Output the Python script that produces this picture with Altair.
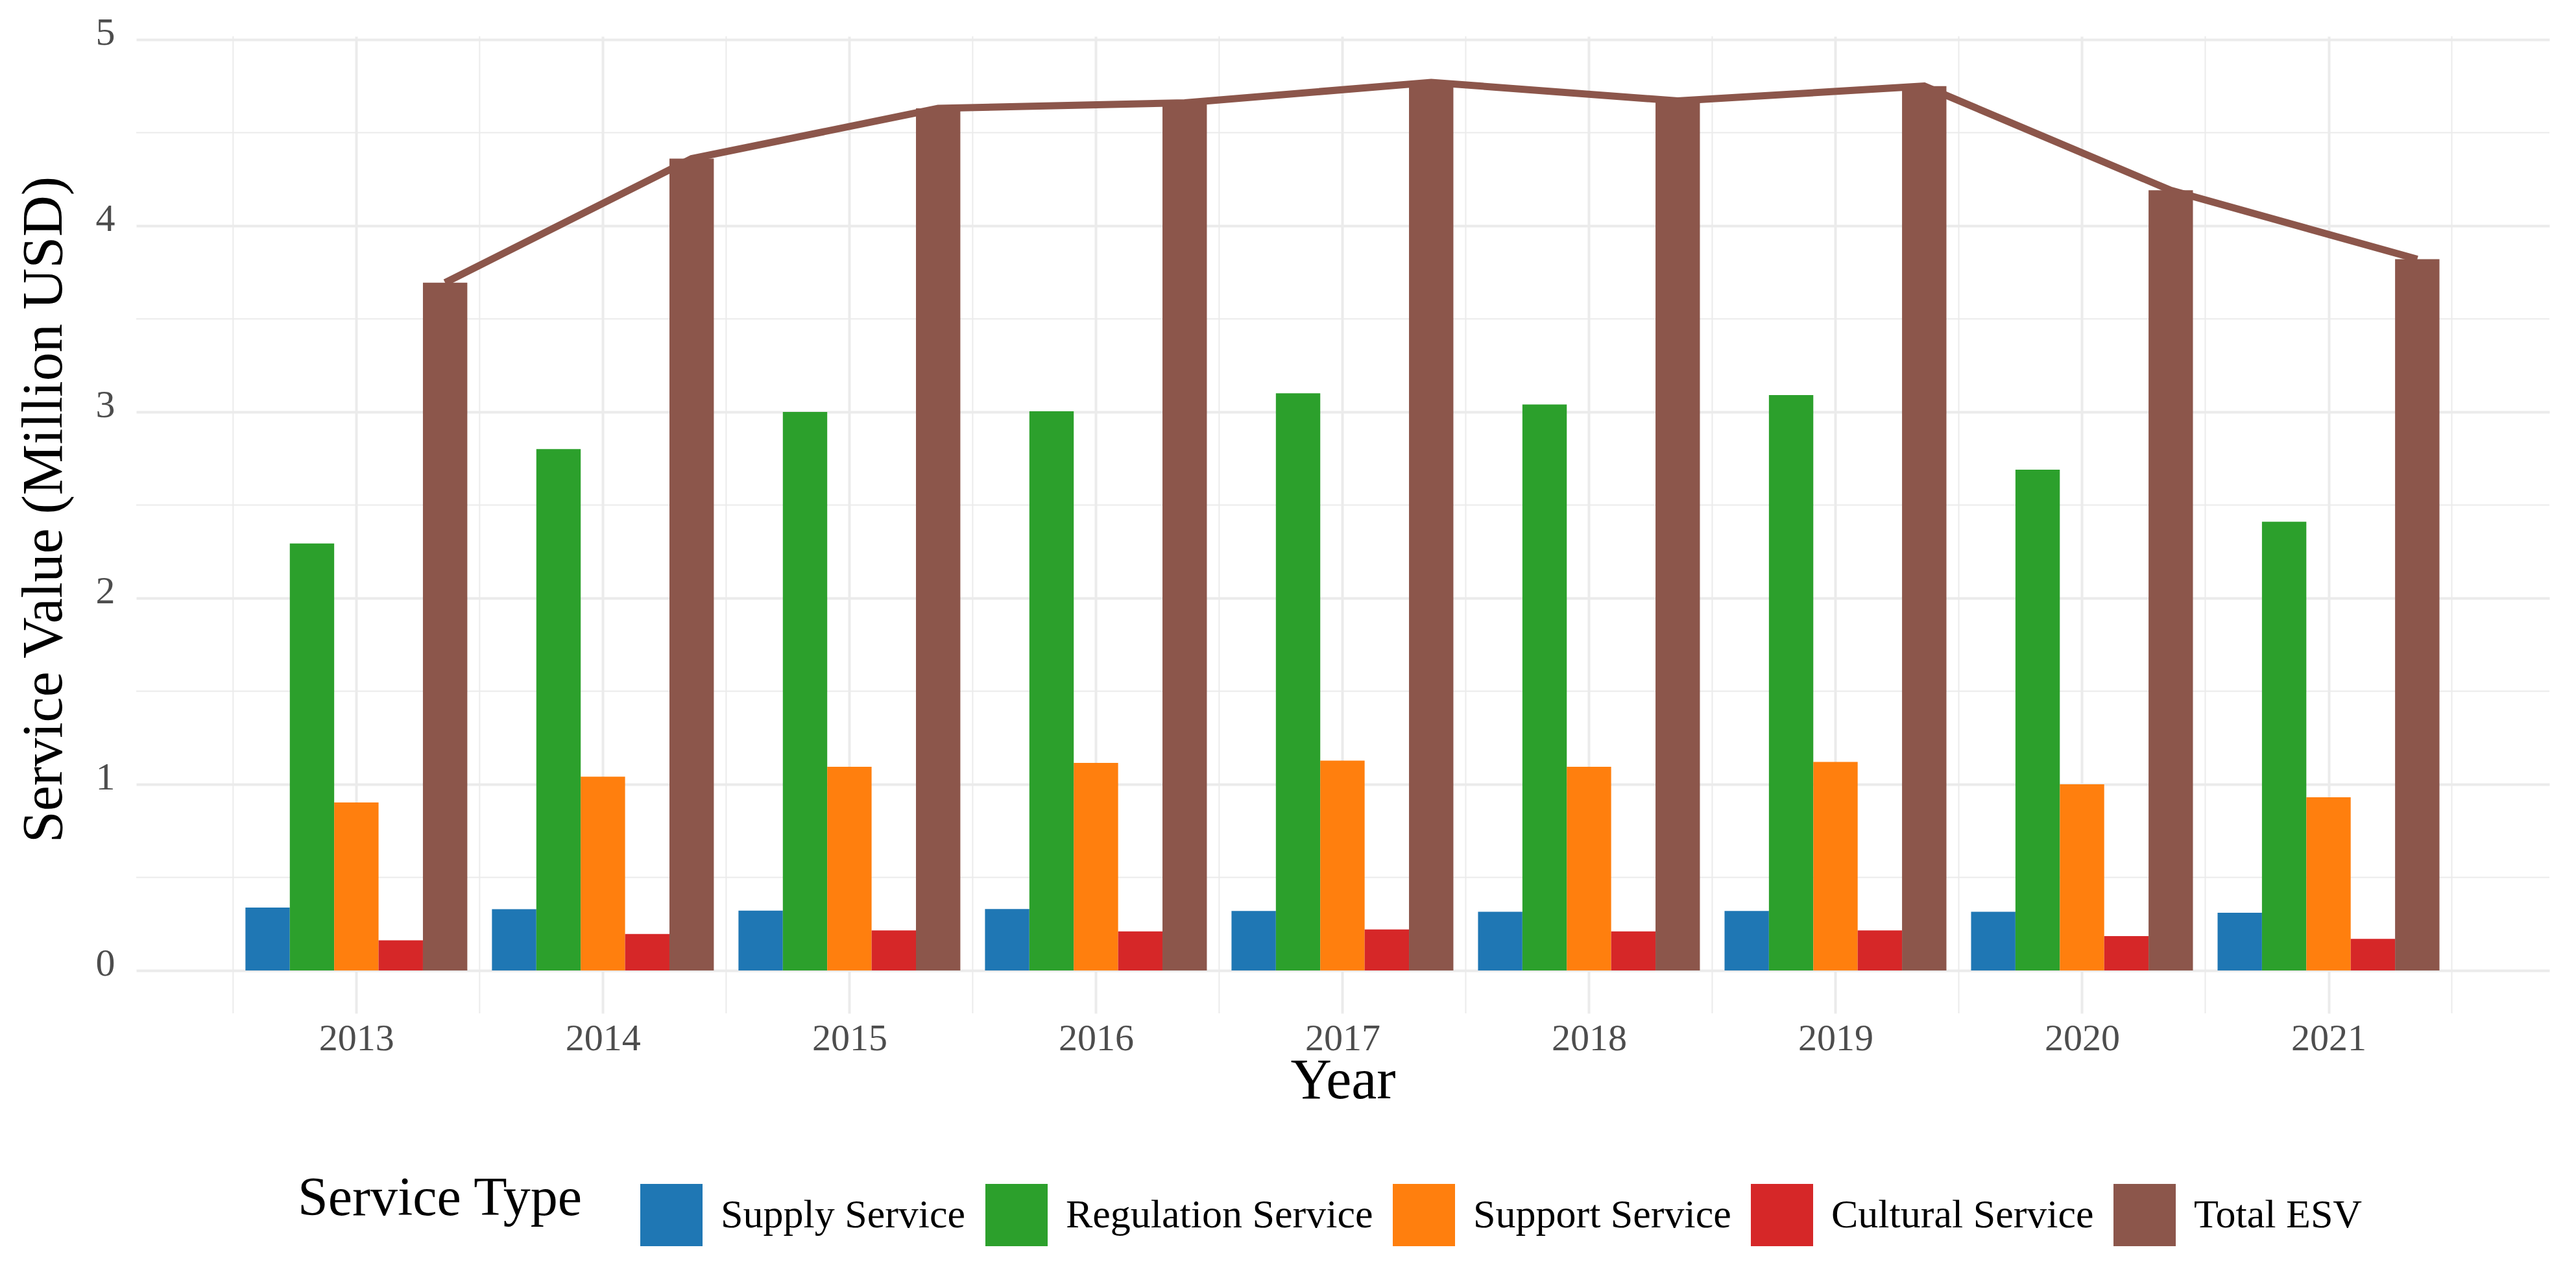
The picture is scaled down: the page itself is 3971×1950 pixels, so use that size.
import altair as alt
import pandas as pd

years = [2013, 2014, 2015, 2016, 2017, 2018, 2019, 2020, 2021]
supply = [0.338, 0.329, 0.321, 0.330, 0.320, 0.315, 0.320, 0.315, 0.310]
regulation = [2.293, 2.800, 3.000, 3.003, 3.100, 3.040, 3.090, 2.690, 2.410]
support = [0.902, 1.041, 1.094, 1.115, 1.127, 1.094, 1.120, 1.000, 0.930]
cultural = [0.162, 0.196, 0.215, 0.210, 0.220, 0.210, 0.215, 0.185, 0.170]
total = [3.694, 4.360, 4.630, 4.660, 4.770, 4.670, 4.750, 4.190, 3.820]

types = ["Supply Service", "Regulation Service", "Support Service",
         "Cultural Service", "Total ESV"]
colors = ["#1f77b4", "#2ca02c", "#ff7f0e", "#d62728", "#8c564b"]
y_ticks = [0, 1, 2, 3, 4, 5]
y_minor = [0.5, 1.5, 2.5, 3.5, 4.5]

series = [supply, regulation, support, cultural, total]
rows = []
for i, t in enumerate(types):
    for yr, v in zip(years, series[i]):
        rows.append({"Year": yr, "Type": t, "Value": v, "idx": i})
bars_df = pd.DataFrame(rows)
line_df = pd.DataFrame({"Year": years, "Total": total})
xminor_df = pd.DataFrame({"xm": [y - 0.5 for y in years] + [years[-1] + 0.5]})
yminor_df = pd.DataFrame({"ym": y_minor})

FONT = "Liberation Serif"
W, H = 3720, 1506
BW = 0.18

xscale = alt.Scale(domain=[2012.107, 2021.896], nice=False, zero=False)
yscale = alt.Scale(domain=[-0.23, 5.017], nice=False, zero=False)

xaxis = alt.Axis(values=years, format="d", title="Year", grid=True,
                 gridColor="#ebebeb", gridWidth=4, ticks=False, domain=False,
                 labelFontSize=58, labelColor="#4d4d4d", labelPadding=10,
                 titleFontSize=88, titleColor="black", titleFontWeight="normal",
                 titleBaseline="alphabetic", titleY=130)
yaxis = alt.Axis(values=y_ticks, format="d", title="Service Value (Million USD)",
                 grid=True, gridColor="#ebebeb", gridWidth=4, ticks=False,
                 domain=False, labelFontSize=60, labelColor="#4d4d4d",
                 labelPadding=33, labelOffset=-10,
                 titleFontSize=88, titleColor="black", titleFontWeight="normal",
                 titleBaseline="alphabetic", titleX=-116, titleY=729,
                 titleAngle=270)

vminor = alt.Chart(xminor_df).mark_rule(color="#ebebeb", strokeWidth=2).encode(
    x=alt.X("xm:Q", scale=xscale, axis=xaxis)
)
hminor = alt.Chart(yminor_df).mark_rule(color="#ebebeb", strokeWidth=2).encode(
    y=alt.Y("ym:Q", scale=yscale, axis=yaxis)
)

line = alt.Chart(line_df).transform_calculate(
    xl=f"datum.Year + {2 * BW}"
).mark_line(color="#8c564b", strokeWidth=11).encode(
    x=alt.X("xl:Q", scale=xscale),
    y=alt.Y("Total:Q", scale=yscale),
)

bars = alt.Chart(bars_df).transform_calculate(
    x0=f"datum.Year + (datum.idx - 2.5) * {BW}",
    x1=f"datum.Year + (datum.idx - 1.5) * {BW}",
).mark_bar(strokeWidth=0).encode(
    x=alt.X("x0:Q", scale=xscale),
    x2="x1:Q",
    y=alt.Y("Value:Q", scale=yscale),
    y2=alt.datum(0),
    color=alt.Color(
        "Type:N",
        scale=alt.Scale(domain=types, range=colors),
        legend=alt.Legend(
            title="Service Type", orient="none", legendX=249, legendY=1769,
            direction="horizontal", columns=5, titleOrient="left",
            titleFontSize=84, titleColor="black", titleFontWeight="normal",
            titleBaseline="alphabetic", titlePadding=88, titleLimit=2000,
            labelFontSize=62, labelColor="black", labelOffset=28,
            labelLimit=2000,
            columnPadding=30, symbolType="square", symbolSize=9216,
            symbolStrokeWidth=0, symbolOpacity=1, padding=0,
        ),
    ),
)

chart = alt.layer(vminor, hminor, line, bars).properties(
    width=W, height=H,
    autosize=alt.AutoSizeParams(type="none"),
    padding={"left": 202, "top": 48, "right": 30, "bottom": 380},
).configure_view(stroke=None).configure_axis(
    labelFont=FONT, titleFont=FONT
).configure_legend(
    labelFont=FONT, titleFont=FONT
)

chart.save("out.html", embed_options={"renderer": "svg", "actions": False})
